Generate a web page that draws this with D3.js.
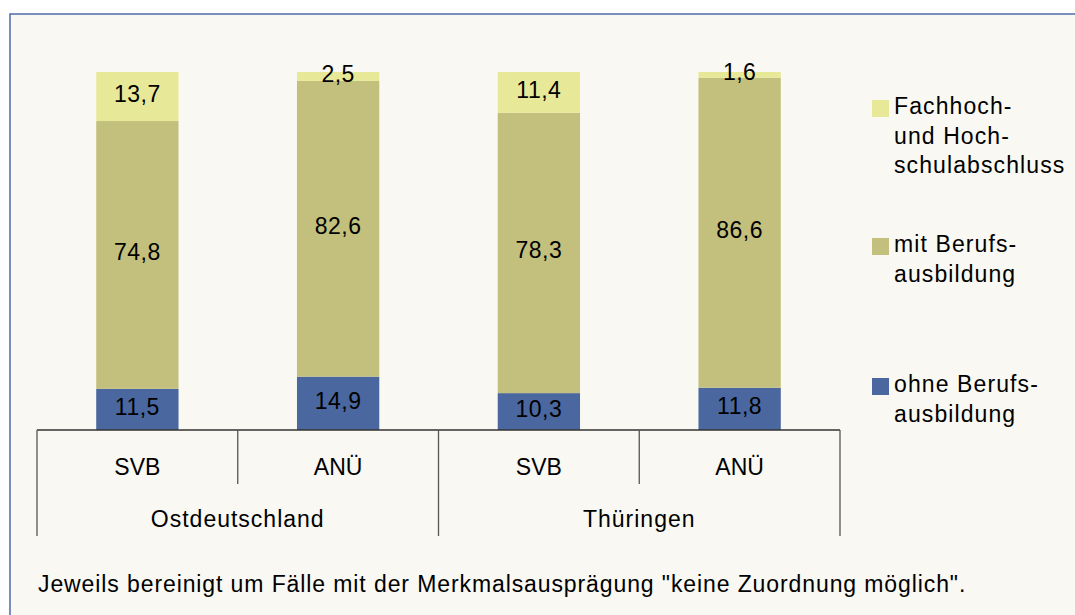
<!DOCTYPE html>
<html>
<head>
<meta charset="utf-8">
<script src="https://cdn.jsdelivr.net/npm/d3@7"></script>
<style>
  body { margin: 0; background: #ffffff; }
  svg { display: block; font-family: "Liberation Sans", Arial, sans-serif; }
</style>
</head>
<body>
<div id="chart"></div>
<script>
// data (percent shares)
const groups = ["Ostdeutschland", "Thüringen"];
const categories = ["SVB", "ANÜ", "SVB", "ANÜ"];
const ohneBerufsausbildung = [11.5, 14.9, 10.3, 11.8];
const mitBerufsausbildung = [74.8, 82.6, 78.3, 86.6];
const hochschulabschluss = [13.7, 2.5, 11.4, 1.6];
const seriesKeys = ["ohne", "mit", "fach"];
const legendLabels = [
    ["Fachhoch-", "und Hoch-", "schulabschluss"],
    ["mit Berufs-", "ausbildung"],
    ["ohne Berufs-", "ausbildung"]
];
const footnote = "Jeweils bereinigt um Fälle mit der Merkmalsausprägung \"keine Zuordnung möglich\".";

const width = 1075, height = 615;
const colors = { ohne: "#4a679f", mit: "#c2c07c", fach: "#e8e899" };

// table for d3.stack
let rows = categories.map(function (c, i) {
    return { idx: i, ohne: ohneBerufsausbildung[i], mit: mitBerufsausbildung[i], fach: hochschulabschluss[i] };
});

let svg = d3.select("#chart")
    .append("svg")
    .attr("width", width)
    .attr("height", height);

// frame
svg.append("rect")
    .attr("x", 10).attr("y", 14)
    .attr("width", width + 20).attr("height", height + 20)
    .attr("fill", "#f9f8f3")
    .attr("stroke", "#4d6cab")
    .attr("stroke-width", 1.5);

let plotLeft = 37, plotRight = 840, plotTop = 72, plotBottom = 430;

let xScale = d3.scaleBand()
    .domain(d3.range(categories.length))
    .range([plotLeft, plotRight])
    .padding(0);

let groupScale = d3.scaleBand()
    .domain(groups)
    .range([plotLeft, plotRight])
    .padding(0);

let yScale = d3.scaleLinear()
    .domain([0, 100])
    .range([plotBottom, plotTop]);

let stacked = d3.stack().keys(seriesKeys)(rows);
let barW = xScale.bandwidth() * 0.41;

let layers = svg.selectAll("g.layer")
    .data(stacked)
    .enter()
    .append("g")
    .attr("class", "layer")
    .attr("fill", function (d) { return colors[d.key] });

layers.selectAll("rect")
    .data(function (d) { return d })
    .enter()
    .append("rect")
    .attr("x", function (d) { return xScale(d.data.idx) + (xScale.bandwidth() - barW) / 2 })
    .attr("y", function (d) { return yScale(d[1]) })
    .attr("width", barW)
    .attr("height", function (d) { return yScale(d[0]) - yScale(d[1]) });

// value labels
layers.selectAll("text")
    .data(function (d) { return d })
    .enter()
    .append("text")
    .attr("x", function (d) { return xScale(d.data.idx) + xScale.bandwidth() / 2 })
    .attr("y", function (d) { return (yScale(d[0]) + yScale(d[1])) / 2 - 3 })
    .attr("dy", "0.36em")
    .attr("text-anchor", "middle")
    .attr("fill", "#000")
    .style("font-size", "23px")
    .style("letter-spacing", "0.5px")
    .text(function (d) { return d3.format(".1f")(d[1] - d[0]).replace(".", ",") });

// category axis with two levels
let axis = svg.append("g").attr("stroke", "#333").attr("stroke-width", 1.3);
axis.append("line")
    .attr("x1", plotLeft).attr("x2", plotRight)
    .attr("y1", plotBottom).attr("y2", plotBottom);

d3.range(categories.length + 1).forEach(function (i) {
    let xPos = i < categories.length ? xScale(i) : plotRight;
    let outer = (i % 2 === 0);
    axis.append("line")
        .attr("x1", xPos).attr("x2", xPos)
        .attr("y1", plotBottom)
        .attr("y2", outer ? 536 : 484)
        .attr("stroke", "#555");
});

svg.selectAll("text.cat")
    .data(categories)
    .enter()
    .append("text")
    .attr("class", "cat")
    .attr("x", function (d, i) { return xScale(i) + xScale.bandwidth() / 2 })
    .attr("y", 475)
    .attr("text-anchor", "middle")
    .style("font-size", "23px")
    .text(function (d) { return d });

svg.selectAll("text.grp")
    .data(groups)
    .enter()
    .append("text")
    .attr("class", "grp")
    .attr("x", function (d) { return groupScale(d) + groupScale.bandwidth() / 2 })
    .attr("y", 527)
    .attr("text-anchor", "middle")
    .style("font-size", "23px")
    .style("letter-spacing", "1px")
    .text(function (d) { return d });

// legend
let legendKeys = ["fach", "mit", "ohne"];
let legendTops = [100, 238, 378];
let legend = svg.selectAll("g.legend")
    .data(legendKeys)
    .enter()
    .append("g")
    .attr("class", "legend")
    .attr("transform", function (d, i) { return "translate(872," + legendTops[i] + ")" });

legend.append("rect")
    .attr("width", 17).attr("height", 17)
    .attr("fill", function (d) { return colors[d] });

legend.append("text")
    .attr("x", 22)
    .attr("y", 14)
    .style("font-size", "23px")
    .style("letter-spacing", "1.1px")
    .selectAll("tspan")
    .data(function (d, i) { return legendLabels[i] })
    .enter()
    .append("tspan")
    .attr("x", 22)
    .attr("dy", function (d, i) { return i === 0 ? 0 : 29.5 })
    .text(function (d) { return d });

svg.append("text")
    .attr("x", 38)
    .attr("y", 592)
    .style("font-size", "23px")
    .style("letter-spacing", "0.9px")
    .text(footnote);
</script>
</body>
</html>
